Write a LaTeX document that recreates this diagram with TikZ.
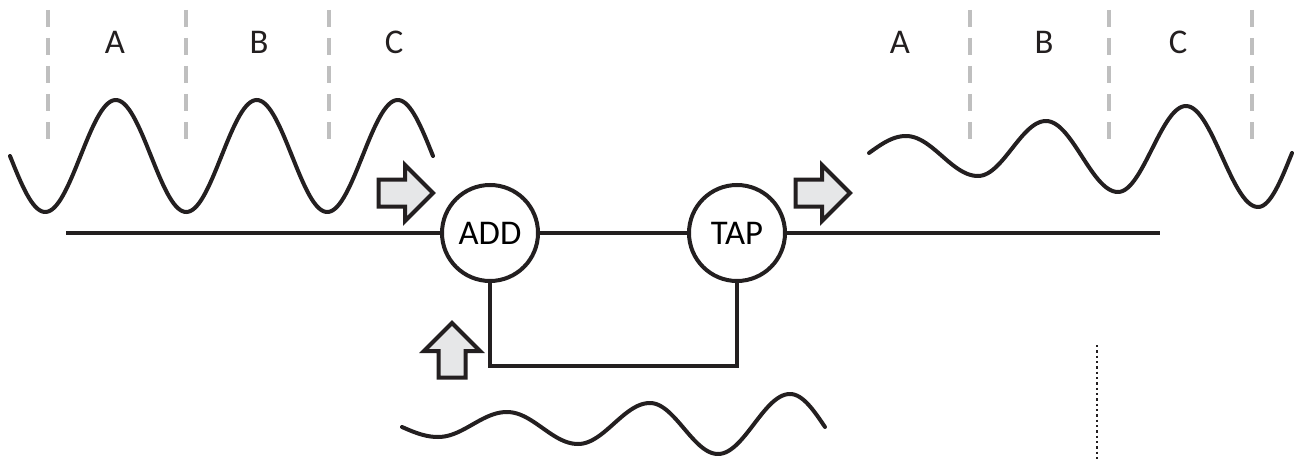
\documentclass[tikz,border=0pt]{standalone}
\usepackage{fontspec}
\setmainfont{Carlito}
\definecolor{ink}{RGB}{35,31,32}
\definecolor{afill}{RGB}{230,231,232}
\definecolor{guidegray}{RGB}{191,191,191}
\tikzset{
  guide/.style={guidegray, line width=2.5pt, dash pattern=on 12.75pt off 8.25pt},
  wave/.style={ink, line width=3pt, line cap=round},
  conn/.style={ink, line width=2.6pt},
  unit/.style={circle, draw=ink, line width=3pt, minimum size=72pt, inner sep=0pt, fill=white, font=\fontsize{26}{30}\selectfont},
  lettertxt/.style={anchor=base, inner sep=0pt, font=\fontsize{26}{30}\selectfont, text=ink},
  dotline/.style={ink, line width=1.8pt, dash pattern=on 1.8pt off 2.2pt},
  barrow/.pic={\draw[ink, fill=afill, line width=3pt, line join=miter]
     (1.5,-13.5) -- (28,-13.5) -- (28,-28) -- (56,0) -- (28,28) -- (28,13.5) -- (1.5,13.5) -- cycle;}
}
\begin{document}
\begin{tikzpicture}[x=0.75pt, y=-0.75pt]
\useasboundingbox (0,0) rectangle (1297,460);
% guides
\foreach \gx in {48,186,329} \draw[guide] (\gx,10) -- (\gx,139);
\foreach \gx in {970,1109,1252} \draw[guide] (\gx,10) -- (\gx,139);
% letters
\node[lettertxt] (la) at (115,54) {A};
\node[lettertxt] (lb) at (259,54) {B};
\node[lettertxt] (lc) at (394,54) {C};
\node[lettertxt] (ra) at (900,54) {A};
\node[lettertxt] (rb) at (1044,54) {B};
\node[lettertxt] (rc) at (1178,54) {C};
% left wave
\draw[wave] plot[domain=10:433, samples=200] (\x,{156+56*sin(2.55319*(\x-10))});
% right and bottom waves: half-cosine segments between extrema
\foreach \xa/\ya/\xb/\yb in {906/136/978/176, 978/176/1046/121, 1046/121/1118/192,
    1118/192/1186/106, 1186/106/1258/207,
    438/437/507/412, 507/412/578/444, 578/444/650/403, 650/403/718/454, 718/454/790/394}
  \draw[wave] plot[domain=0:1,samples=30] ({\xa+(\xb-\xa)*\x},{\ya+(\yb-\ya)*(1-cos(180*\x))/2});
% entry quarters (centre to extremum)
\foreach \xa/\ya/\xb/\yb in {869/153/906/136, 402/427/438/437}
  \draw[wave] plot[domain=0:1,samples=20] ({\xa+(\xb-\xa)*\x},{\ya+(\yb-\ya)*sin(90*\x)});
% exit quarters (extremum to centre)
\foreach \xa/\ya/\xb/\yb in {1258/207/1292/153, 790/394/825/427}
  \draw[wave] plot[domain=0:1,samples=20] ({\xa+(\xb-\xa)*\x},{\ya+(\yb-\ya)*(1-cos(90*\x))});
% units
\node[unit] (add) at (490,233) {ADD};
\node[unit] (tap) at (737,233) {TAP};
\coordinate (lin) at (66,233);
\coordinate (lout) at (1160,233);
\coordinate (fb) at (600,366);
\draw[conn] (lin) -- (add.west);
\draw[conn] (add.east) -- (tap.west);
\draw[conn] (tap.east) -- (lout);
\draw[conn] (add.south) |- (fb) -| (tap.south);
% block arrows
\pic at (377,193) {barrow};
\pic at (794,193) {barrow};
\pic[rotate=90] at (452,379) {barrow};
% dotted line
\coordinate (dtop) at (1097,345);
\coordinate (dbot) at (1097,460);
\draw[dotline] (dtop) -- (dbot);
\end{tikzpicture}
\end{document}
